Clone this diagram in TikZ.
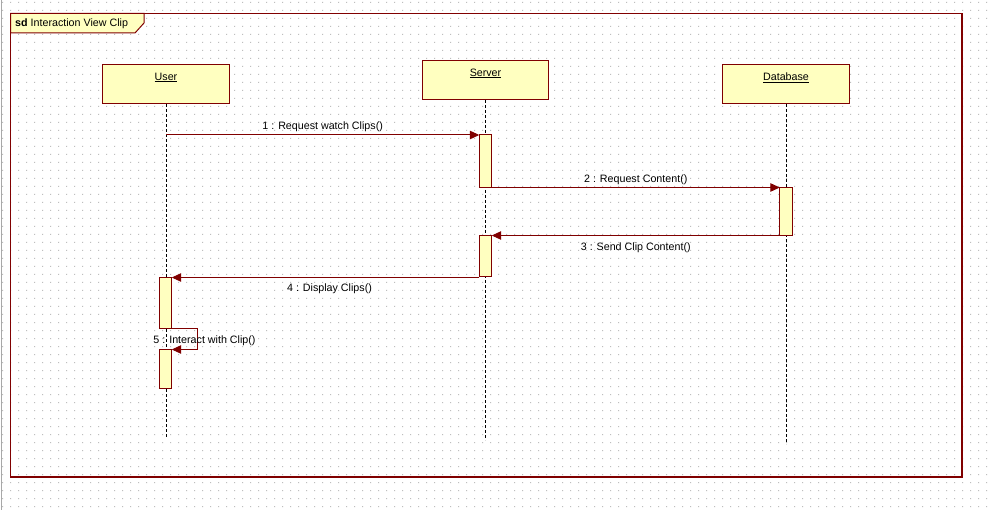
\documentclass[tikz,border=0pt]{standalone}
\usepackage{fontspec}
\setmainfont{Liberation Sans}
\usetikzlibrary{arrows.meta}
\definecolor{umlred}{HTML}{800000}
\definecolor{umlfill}{HTML}{FFFFC0}
\definecolor{griddot}{HTML}{BEBEBE}
\definecolor{edgegray}{HTML}{A8A8A8}
\begin{document}
\begin{tikzpicture}[x=1pt,y=-1pt,
  lbl/.style={font=\fontsize{10.7}{12}\selectfont, inner sep=0pt, text=black},
  lifebox/.style={draw=umlred, fill=umlfill, line width=1pt, inner sep=0pt, outer sep=0pt, anchor=north},
  actbar/.style={draw=umlred, fill=umlfill, line width=1pt, inner sep=0pt, outer sep=0pt,
                 minimum width=12.4pt, anchor=north},
  lifeline/.style={draw=black, line width=1pt, dash pattern=on 3pt off 2pt},
  msg/.style={draw=umlred, line width=1pt, -{Triangle[length=9.5pt,width=8.5pt]}},
  frame/.style={draw=umlred, line width=1.2pt, inner sep=0pt, outer sep=0pt, anchor=north west}]

% canvas and dotted grid
\useasboundingbox (0,0) rectangle (995,510);
\fill[white] (0,0) rectangle (995,510);
\foreach \k in {0,...,63}{
  \fill[griddot, even odd rule]
    \foreach \j in {0,...,123}{ (2+8*\j,2+8*\k) rectangle ++(1,1) };
}
\draw[edgegray, line width=1pt] (1.5,0) -- (1.5,510);

% sequence frame with its name tab
\node[frame, minimum width=951.5pt, minimum height=463.5pt] (sdframe) at (10.5,13.5) {};
\draw[draw=umlred, fill=umlfill, line width=1pt]
  (sdframe.north west) -- (144,13.5) -- (144,23) -- (135,33) -- (10.5,33) -- cycle;
\node[lbl, anchor=west] (sdname) at (15,24) {\textbf{sd} Interaction View Clip};

% lifeline heads
\node[lifebox, minimum width=127pt, minimum height=39pt] (user) at (166,65) {};
\node[lifebox, minimum width=126pt, minimum height=39pt] (server) at (485.5,61) {};
\node[lifebox, minimum width=127pt, minimum height=39pt] (db) at (786,65) {};
\node[lbl] (userlbl) at (166,77.5) {\underline{User}};
\node[lbl] (serverlbl) at (485.5,73.5) {\underline{Server}};
\node[lbl] (dblbl) at (786,78) {\underline{Database}};

% lifelines
\coordinate (userend) at (166,437);
\coordinate (serverend) at (485.5,440);
\coordinate (dbend) at (786,444);
\draw[lifeline] (user.south) -- (userend);
\draw[lifeline] (server.south) -- (serverend);
\draw[lifeline] (db.south) -- (dbend);

% activation bars
\node[actbar, minimum height=52.5pt] (s1) at (485.5,135) {};
\node[actbar, minimum height=48pt] (d1) at (786,187.5) {};
\node[actbar, minimum height=41.5pt] (s2) at (485.5,235.5) {};
\node[actbar, minimum height=51pt] (u1) at (165.5,277.5) {};
\node[actbar, minimum height=39pt] (u2) at (165.5,349.5) {};

% messages
\draw[msg] (user.center |- s1.north west) -- (s1.north west)
  node[lbl, midway, yshift=8pt] (m1) {1 : Request watch Clips()};
\draw[msg] (s1.south east |- d1.north west) -- (d1.north west)
  node[lbl, midway, yshift=8pt] (m2) {2 : Request Content()};
\draw[msg] (d1.south west) -- (d1.south west -| s2.north east)
  node[lbl, midway, yshift=-12pt] (m3) {3 : Send Clip Content()};
\draw[msg] (s2.south west |- u1.north east) -- (u1.north east)
  node[lbl, pos=0.487, yshift=-11.5pt] (m4) {4 : Display Clips()};
\draw[msg] (u1.south east) -- ++(25.5,0) |- (u2.north east);
\node[lbl] (m5) at (204.5,340.5) {5 : Interact with Clip()};
\end{tikzpicture}
\end{document}
